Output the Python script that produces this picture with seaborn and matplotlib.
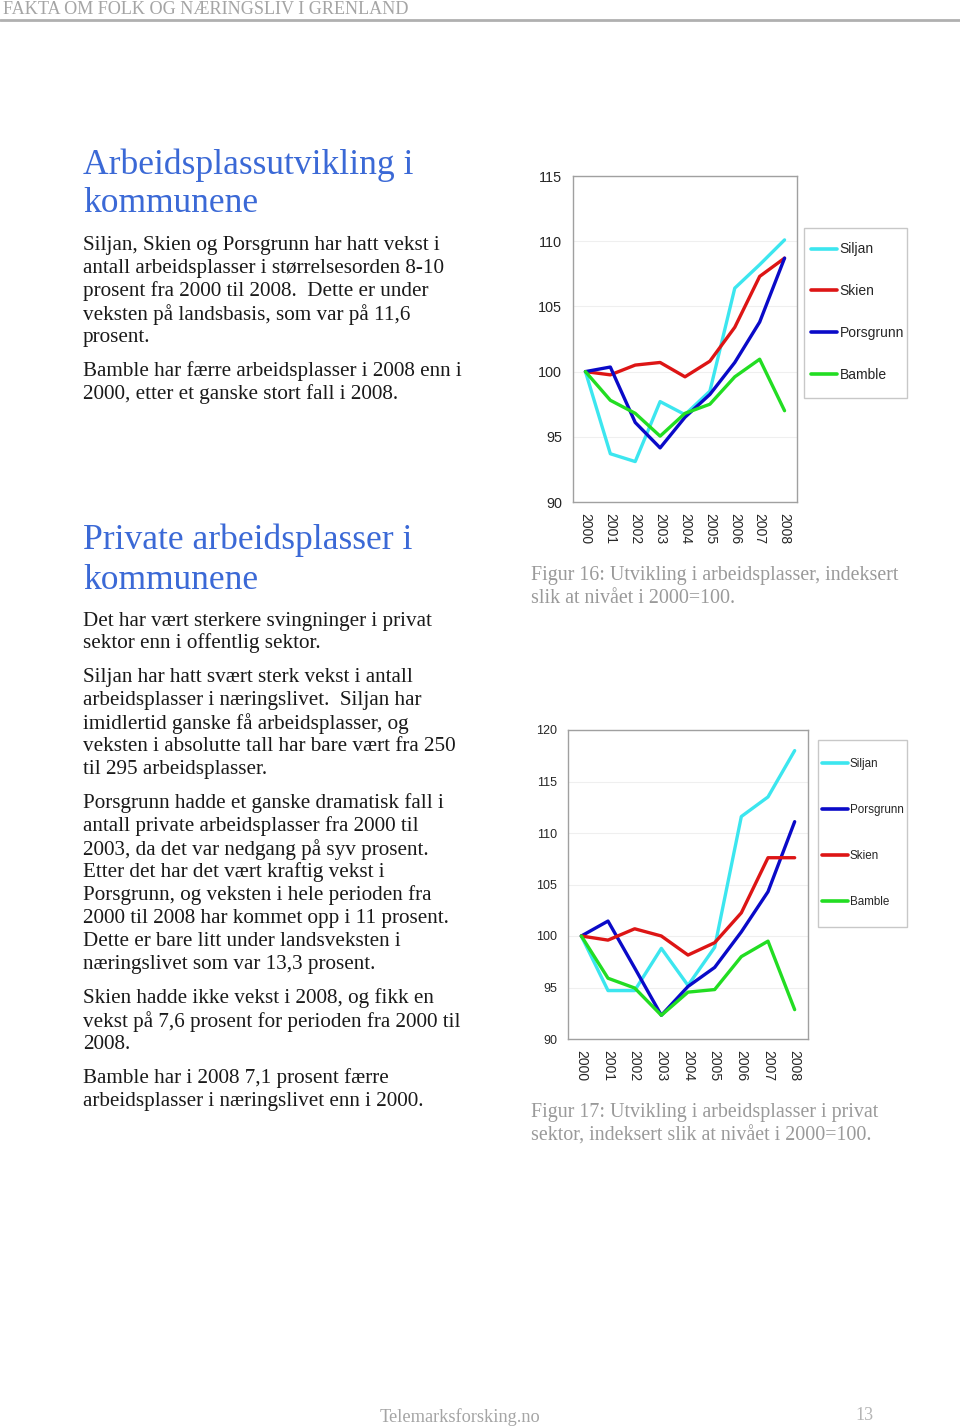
import matplotlib
matplotlib.use("Agg")
import matplotlib.pyplot as plt
import pandas as pd
import seaborn as sns

# --- data -------------------------------------------------------------
years = ["2000", "2001", "2002", "2003", "2004", "2005", "2006", "2007", "2008"]

# Figur 16: alle arbeidsplasser, 2000=100
tot_siljan = [100, 93.7, 93.1, 97.7, 96.7, 98.5, 106.4, 108.2, 110.1]
tot_skien = [100, 99.75, 100.5, 100.7, 99.6, 100.8, 103.4, 107.3, 108.7]
tot_porsgrunn = [100, 100.35, 96.1, 94.15, 96.5, 98.25, 100.7, 103.8, 108.7]
tot_bamble = [100, 97.8, 96.8, 95.05, 96.8, 97.5, 99.6, 100.95, 97.0]

# Figur 17: private arbeidsplasser, 2000=100
priv_siljan = [100, 94.7, 94.7, 98.8, 95.2, 98.9, 111.6, 113.5, 118.0]
priv_porsgrunn = [100, 101.45, 96.9, 92.3, 95.1, 96.95, 100.4, 104.3, 111.1]
priv_skien = [100, 99.6, 100.7, 100.0, 98.15, 99.35, 102.25, 107.6, 107.6]
priv_bamble = [100, 95.9, 94.95, 92.3, 94.55, 94.8, 98.0, 99.5, 92.85]

colors = {"Siljan": "#3ce6ef", "Skien": "#dd1515", "Porsgrunn": "#0a0ac8", "Bamble": "#22dd22"}

W, H = 960, 1426


def fx(px):
    return px / W


def fy(py):
    return 1 - py / H


def long_df(series):
    rows = []
    for name, vals in series.items():
        for i, v in enumerate(vals):
            rows.append({"pos": i, "year": years[i], "kommune": name, "index": v})
    return pd.DataFrame(rows)


sns.set_style("white")
plt.rcParams["font.family"] = ["Liberation Sans", "DejaVu Sans"]

fig = plt.figure(figsize=(W / 100, H / 100), dpi=100)

serif = ["Liberation Serif", "DejaVu Serif"]
body_col = "#1a1a1a"
title_col = "#3b69d6"
grey = "#9a9a9a"

# header + footer
fig.text(fx(3), fy(10), "FAKTA OM FOLK OG NÆRINGSLIV I GRENLAND", family=serif,
         fontsize=13.1, color="#a5a5a5", va="center", ha="left")
fig.add_artist(plt.Line2D([0, 1], [fy(20), fy(20)], color="#b0b0b0", lw=2))
fig.text(fx(380), fy(1417), "Telemarksforsking.no", family=serif, fontsize=13.2,
         color="#a5a5a5", va="center", ha="left")
fig.text(fx(855), fy(1415), "13", family=serif, fontsize=13, color="#b5b5b5",
         va="center", ha="left")


def lines(x, ys, texts, size=15.2, color=body_col, dy=2.5):
    for y, t in zip(ys, texts):
        fig.text(fx(x), fy(y + dy), t, family=serif, fontsize=size, color=color,
                 va="center", ha="left")


lines(83, [162, 201], ["Arbeidsplassutvikling i", "kommunene"], size=25.6, color=title_col, dy=3)
lines(83, [243, 266, 289, 312, 335], [
    "Siljan, Skien og Porsgrunn har hatt vekst i",
    "antall arbeidsplasser i størrelsesorden 8-10",
    "prosent fra 2000 til 2008.  Dette er under",
    "veksten på landsbasis, som var på 11,6",
    "prosent.",
])
lines(83, [369, 392], [
    "Bamble har færre arbeidsplasser i 2008 enn i",
    "2000, etter et ganske stort fall i 2008.",
])
lines(83, [537, 577], ["Private arbeidsplasser i", "kommunene"], size=25.6, color=title_col, dy=3)
lines(83, [619, 641], [
    "Det har vært sterkere svingninger i privat",
    "sektor enn i offentlig sektor.",
])
lines(83, [675, 698, 721, 744, 767], [
    "Siljan har hatt svært sterk vekst i antall",
    "arbeidsplasser i næringslivet.  Siljan har",
    "imidlertid ganske få arbeidsplasser, og",
    "veksten i absolutte tall har bare vært fra 250",
    "til 295 arbeidsplasser.",
])
lines(83, [801, 824, 847, 870, 893, 916, 939, 962], [
    "Porsgrunn hadde et ganske dramatisk fall i",
    "antall private arbeidsplasser fra 2000 til",
    "2003, da det var nedgang på syv prosent.",
    "Etter det har det vært kraftig vekst i",
    "Porsgrunn, og veksten i hele perioden fra",
    "2000 til 2008 har kommet opp i 11 prosent.",
    "Dette er bare litt under landsveksten i",
    "næringslivet som var 13,3 prosent.",
])
lines(83, [996, 1019, 1042], [
    "Skien hadde ikke vekst i 2008, og fikk en",
    "vekst på 7,6 prosent for perioden fra 2000 til",
    "2008.",
])
lines(83, [1076, 1099], [
    "Bamble har i 2008 7,1 prosent færre",
    "arbeidsplasser i næringslivet enn i 2000.",
])
lines(531, [573, 596], [
    "Figur 16: Utvikling i arbeidsplasser, indeksert",
    "slik at nivået i 2000=100.",
], size=14.4, color=grey)
lines(531, [1110, 1133], [
    "Figur 17: Utvikling i arbeidsplasser i privat",
    "sektor, indeksert slik at nivået i 2000=100.",
], size=14.4, color=grey)


def chart(rect, series, ylim, ystep, tick_fs, frame_px, leg_anchor, leg_fs, leg_space, hlen):
    ax = fig.add_axes(rect)
    df = long_df(series)
    sns.lineplot(data=df, x="pos", y="index", hue="kommune", hue_order=list(series),
                 palette=colors, linewidth=2.4, ax=ax, legend=True)
    ax.set_xlim(-0.5, len(years) - 0.5)
    ax.set_ylim(*ylim)
    ax.set_yticks(range(ylim[0], ylim[1] + 1, ystep))
    ax.tick_params(axis="y", labelsize=tick_fs, length=2.5, color="#999999", pad=5.5)
    ax.set_xticks([i - 0.5 for i in range(len(years) + 1)])
    ax.set_xticklabels([])
    ax.set_xticks(range(len(years)), minor=True)
    ax.set_xticklabels(years, minor=True, rotation=-90, fontsize=10)
    ax.tick_params(axis="x", which="major", length=3, color="#999999")
    ax.tick_params(axis="x", which="minor", length=0, pad=8)
    ax.grid(axis="y", color="#efefef", lw=0.8)
    ax.set_xlabel("")
    ax.set_ylabel("")
    for s in ax.spines.values():
        s.set_color("#a0a0a0")
        s.set_linewidth(1)
    handles, labels = ax.get_legend_handles_labels()
    ax.get_legend().remove()
    # legend box drawn separately so the frame hugs the text like the original
    x0, y0, x1, y1 = frame_px
    fig.add_artist(plt.Rectangle((fx(x0), fy(y1)), (x1 - x0) / W, (y1 - y0) / H,
                                 transform=fig.transFigure, fill=False,
                                 edgecolor="#c8c8c8", lw=1))
    leg = fig.legend(handles, labels, loc="upper left",
                     bbox_to_anchor=(fx(leg_anchor[0]), fy(leg_anchor[1])),
                     bbox_transform=fig.transFigure, fontsize=leg_fs, frameon=False,
                     borderaxespad=0, borderpad=0, handlelength=hlen,
                     handletextpad=0.2, labelspacing=leg_space)
    for ln in leg.get_lines():
        ln.set_linewidth(2.6)
    return ax


chart([fx(573), fy(502), 224 / W, 326 / H],
      {"Siljan": tot_siljan, "Skien": tot_skien, "Porsgrunn": tot_porsgrunn, "Bamble": tot_bamble},
      (90, 115), 5, 10.4, (804, 228, 907, 398), (811, 242.5), 10, 2.0, 1.85)

chart([fx(568), fy(1039), 240 / W, 309 / H],
      {"Siljan": priv_siljan, "Porsgrunn": priv_porsgrunn, "Skien": priv_skien, "Bamble": priv_bamble},
      (90, 120), 5, 9, (818, 740, 907, 927), (822, 758.5), 8.4, 2.9, 2.2)

fig.savefig("out.png", dpi=100)
